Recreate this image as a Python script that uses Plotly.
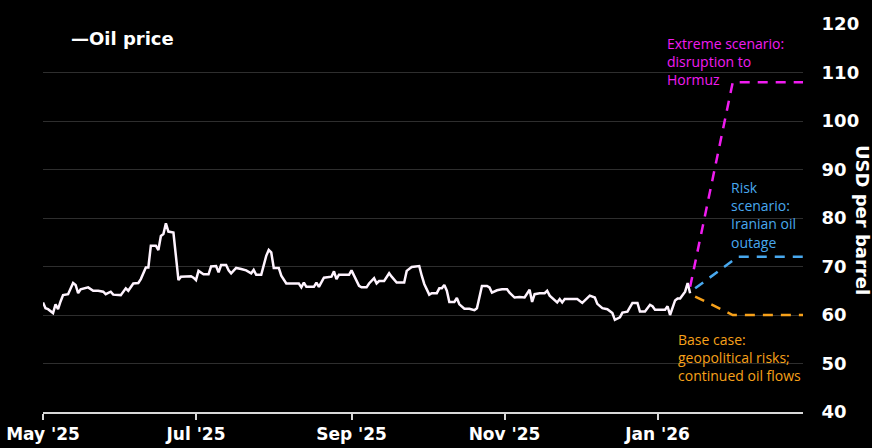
import plotly.graph_objects as go

# ---- Data ----
price_dates = (
    ["2025-05-01", "2025-05-02", "2025-05-03", "2025-05-05", "2025-05-06", "2025-05-07", "2025-05-08", "2025-05-09", "2025-05-11", "2025-05-13",
     "2025-05-14", "2025-05-15", "2025-05-16", "2025-05-19", "2025-05-21", "2025-05-23", "2025-05-25", "2025-05-26", "2025-05-28", "2025-05-29"]
    + ["2025-06-01", "2025-06-03", "2025-06-04", "2025-06-06", "2025-06-08", "2025-06-09", "2025-06-11", "2025-06-12", "2025-06-13", "2025-06-15",
       "2025-06-16", "2025-06-17", "2025-06-18", "2025-06-19", "2025-06-20", "2025-06-22", "2025-06-24", "2025-06-25", "2025-06-29", "2025-06-30"]
    + ["2025-07-01", "2025-07-02", "2025-07-04", "2025-07-06", "2025-07-07", "2025-07-09", "2025-07-10", "2025-07-11", "2025-07-13", "2025-07-14",
       "2025-07-15", "2025-07-17", "2025-07-19", "2025-07-21", "2025-07-23", "2025-07-24", "2025-07-25", "2025-07-27", "2025-07-29", "2025-07-30",
       "2025-07-31"]
    + ["2025-08-01", "2025-08-03", "2025-08-04", "2025-08-06", "2025-08-09", "2025-08-11", "2025-08-12", "2025-08-13", "2025-08-14", "2025-08-17",
       "2025-08-18", "2025-08-19", "2025-08-21", "2025-08-23", "2025-08-24", "2025-08-25", "2025-08-26", "2025-08-27", "2025-08-29", "2025-08-31"]
    + ["2025-09-01", "2025-09-02", "2025-09-04", "2025-09-05", "2025-09-07", "2025-09-08", "2025-09-10", "2025-09-11", "2025-09-12", "2025-09-14",
       "2025-09-16", "2025-09-17", "2025-09-19", "2025-09-22", "2025-09-23", "2025-09-25", "2025-09-27", "2025-09-28", "2025-09-29", "2025-09-30"]
    + ["2025-10-02", "2025-10-03", "2025-10-05", "2025-10-06", "2025-10-07", "2025-10-08", "2025-10-09", "2025-10-10", "2025-10-12", "2025-10-13",
       "2025-10-14", "2025-10-16", "2025-10-18", "2025-10-20", "2025-10-21", "2025-10-22", "2025-10-23", "2025-10-25", "2025-10-26", "2025-10-27",
       "2025-10-29", "2025-10-31"]
    + ["2025-11-02", "2025-11-03", "2025-11-05", "2025-11-07", "2025-11-09", "2025-11-11", "2025-11-12", "2025-11-13", "2025-11-15", "2025-11-17",
       "2025-11-18", "2025-11-19", "2025-11-21", "2025-11-22", "2025-11-23", "2025-11-24", "2025-11-25", "2025-11-27", "2025-11-30"]
    + ["2025-12-02", "2025-12-03", "2025-12-05", "2025-12-07", "2025-12-08", "2025-12-10", "2025-12-12", "2025-12-14", "2025-12-15", "2025-12-17",
       "2025-12-18", "2025-12-20", "2025-12-22", "2025-12-24", "2025-12-25", "2025-12-27", "2025-12-29", "2025-12-30", "2025-12-31"]
    + ["2026-01-04", "2026-01-05", "2026-01-06", "2026-01-08", "2026-01-09", "2026-01-10", "2026-01-12", "2026-01-13", "2026-01-14"]
)
price_values = (
    [62.6, 61.4, 61.2, 60.4, 62.2, 61.2, 62.8, 64.1, 64.3, 66.6,
     66.2, 64.5, 65.3, 65.7, 65.0, 65.0, 64.8, 64.3, 64.8, 64.2]
    + [64.1, 65.5, 65.0, 66.5, 66.6, 67.4, 69.8, 69.8, 74.3, 74.3,
       73.4, 76.3, 76.7, 78.9, 77.2, 77.0, 67.2, 67.9, 68.0, 67.7]
    + [67.2, 69.1, 68.4, 68.4, 70.0, 70.1, 68.8, 70.3, 70.3, 69.2,
       68.6, 69.7, 69.5, 69.2, 68.6, 69.3, 68.3, 68.3, 72.2, 73.4,
       72.9]
    + [69.7, 69.7, 68.1, 66.5, 66.5, 66.5, 65.7, 66.7, 65.8, 65.8,
       66.7, 65.8, 67.7, 67.9, 67.9, 69.0, 67.4, 68.3, 68.3, 68.3]
    + [69.2, 68.1, 66.0, 65.7, 65.7, 66.5, 67.6, 66.5, 67.0, 67.0,
       68.6, 67.9, 66.7, 66.7, 69.1, 69.9, 70.1, 70.1, 68.1, 66.4]
    + [64.2, 64.5, 64.5, 65.5, 65.5, 66.2, 65.0, 62.7, 62.7, 63.5,
       62.2, 61.3, 61.3, 61.0, 61.4, 63.6, 66.0, 66.0, 65.7, 64.6,
       65.1, 65.3]
    + [65.3, 64.6, 63.6, 63.7, 63.6, 65.2, 62.7, 64.3, 64.5, 64.5,
       65.0, 64.0, 63.0, 62.6, 63.3, 62.6, 63.3, 63.3, 63.3]
    + [62.5, 63.0, 64.0, 63.6, 62.3, 61.4, 61.2, 60.4, 59.0, 59.5,
       60.5, 60.7, 62.5, 62.5, 60.7, 60.7, 62.1, 61.8, 61.1]
    + [61.1, 61.8, 60.0, 63.0, 63.4, 63.4, 64.8, 66.6, 64.5]
)
assert len(price_dates) == len(price_values)

extreme_dates = ["2026-01-14", "2026-01-31", "2026-02-28"]
extreme_values = [65.8, 108, 108]
risk_dates = ["2026-01-16", "2026-02-02", "2026-02-28"]
risk_values = [65.5, 72, 72]
base_dates = ["2026-01-16", "2026-01-31", "2026-02-28"]
base_values = [63.8, 60, 60]

y_ticks = [40, 50, 60, 70, 80, 90, 100, 110, 120]
x_range = ["2025-05-01", "2026-02-28"]

legend_label = "—Oil price"
y_title = "USD per barrel"
extreme_label = "Extreme scenario:<br>disruption to<br>Hormuz"
risk_label = "Risk<br>scenario:<br>Iranian oil<br>outage"
base_label = "Base case:<br>geopolitical risks;<br>continued oil flows"

# ---- Styles ----
WHITE = "#ffffff"
MAGENTA = "#f01cf0"
BLUE = "#48a8ee"
ORANGE = "#f7a11a"
BOLD = "DejaVu Sans, Verdana, sans-serif"
REG = "Open Sans, Noto Sans, Arial, sans-serif"

fig = go.Figure()
fig.add_trace(go.Scatter(x=extreme_dates, y=extreme_values, mode="lines",
                         line=dict(color=MAGENTA, width=2.5, dash="10px,8px"), hoverinfo="skip"))
fig.add_trace(go.Scatter(x=risk_dates, y=risk_values, mode="lines",
                         line=dict(color=BLUE, width=2.5, dash="10px,8px"), hoverinfo="skip"))
fig.add_trace(go.Scatter(x=base_dates, y=base_values, mode="lines",
                         line=dict(color=ORANGE, width=2.5, dash="10px,8px"), hoverinfo="skip"))
fig.add_trace(go.Scatter(x=price_dates, y=price_values, mode="lines",
                         line=dict(color="#fff4ff", width=2.5), name="Oil price"))

fig.update_layout(
    width=872, height=448,
    margin=dict(l=43, r=69, t=24, b=36),
    paper_bgcolor="#000000", plot_bgcolor="#000000",
    showlegend=False,
    xaxis=dict(
        type="date", range=x_range, automargin=False,
        tick0="2025-05-01", dtick="M2", tickformat="%b '%y",
        showgrid=False, zeroline=False,
        showline=True, linecolor="#d8d8d8", linewidth=1.5,
        ticks="outside", ticklen=6, tickcolor="#d8d8d8", tickwidth=1.5,
        tickfont=dict(family=BOLD, size=17, color=WHITE, weight="bold"),
    ),
    yaxis=dict(
        side="right", range=[40, 120], tickvals=y_ticks, automargin=False,
        showgrid=True, gridcolor="#2e2e2e", gridwidth=1, zeroline=False,
        showline=False,
        ticks="outside", ticklen=14, tickcolor="rgba(0,0,0,0)",
        tickfont=dict(family=BOLD, size=18, color=WHITE, weight="bold"),
    ),
    annotations=[
        dict(text=legend_label, xref="paper", yref="paper", x=0.034, y=0.962,
             xanchor="left", yanchor="middle", showarrow=False,
             font=dict(family=BOLD, size=18, color=WHITE, weight="bold")),
        dict(text=y_title, xref="paper", yref="paper", x=1.0 + (862 - 803) / 760, y=0.495,
             xanchor="center", yanchor="middle", textangle=90, showarrow=False,
             font=dict(family=BOLD, size=18, color=WHITE, weight="bold")),
        dict(text=extreme_label, xref="paper", yref="paper", x=0.819, y=0.980,
             xanchor="left", yanchor="top", align="left", showarrow=False,
             font=dict(family=REG, size=14, color=MAGENTA)),
        dict(text=risk_label, xref="paper", yref="paper", x=0.903, y=0.609,
             xanchor="left", yanchor="top", align="left", showarrow=False,
             font=dict(family=REG, size=14, color=BLUE)),
        dict(text=base_label, xref="paper", yref="paper", x=0.833, y=0.216,
             xanchor="left", yanchor="top", align="left", showarrow=False,
             font=dict(family=REG, size=14, color=ORANGE)),
    ],
)

fig.write_html(
    "out.html",
    config={"displayModeBar": False},
    post_script="document.body.style.margin='0';document.body.style.background='#000';",
)
